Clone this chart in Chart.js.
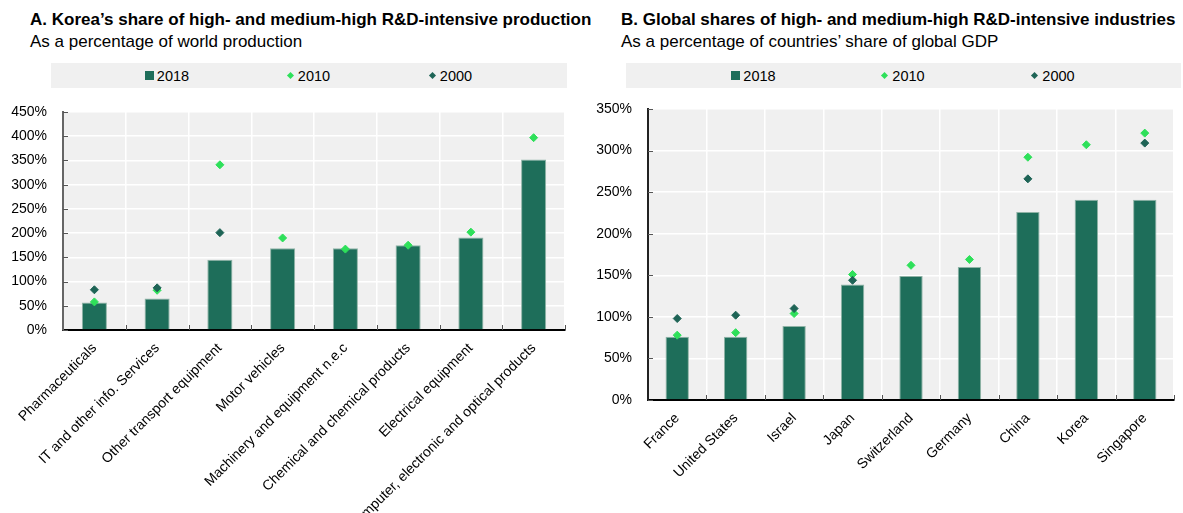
<!DOCTYPE html>
<html>
<head>
<meta charset="utf-8">
<script src="https://cdn.jsdelivr.net/npm/chart.js@4.4.1/dist/chart.umd.min.js"></script>
<style>
  body { margin: 0; background: #fff; width: 1183px; height: 513px; overflow: hidden; position: relative; font-family: "Liberation Sans", Arial, sans-serif; }
  .title { position: absolute; font-weight: bold; font-size: 17px; color: #000; white-space: nowrap; }
  .sub { position: absolute; font-size: 17px; color: #000; white-space: nowrap; }
  .legend { position: absolute; height: 25px; background: #f0f0f0; display: flex; justify-content: center; align-items: center; font-size: 14.5px; }
  .legend .item { display: flex; justify-content: center; align-items: center; }
  .sq { width: 9px; height: 9px; background: #1e6e5a; margin-right: 3px; }
  .dm { width: 5px; height: 5px; transform: rotate(45deg); margin-right: 5px; }
  canvas { position: absolute; }
</style>
</head>
<body>

<div class="title" style="left:30px; top:10px;">A. Korea’s share of high- and medium-high R&amp;D-intensive production</div>
<div class="sub" style="left:30px; top:32px;">As a percentage of world production</div>
<div class="legend" style="left:51px; top:63px; width:516px;">
  <div class="item" style="width:142px"><span class="sq"></span>2018</div>
  <div class="item" style="width:142px"><span class="dm" style="background:#2ee05a"></span>2010</div>
  <div class="item" style="width:142px"><span class="dm" style="background:#1e6456"></span>2000</div>
</div>
<canvas id="chartA" width="570" height="418" style="left:0px; top:95px;"></canvas>

<div class="title" style="left:621px; top:10px;">B. Global shares of high- and medium-high R&amp;D-intensive industries</div>
<div class="sub" style="left:621px; top:32px;">As a percentage of countries’ share of global GDP</div>
<div class="legend" style="left:626px; top:63px; width:555px;">
  <div class="item" style="width:150px"><span class="sq"></span>2018</div>
  <div class="item" style="width:150px"><span class="dm" style="background:#2ee05a"></span>2010</div>
  <div class="item" style="width:150px"><span class="dm" style="background:#1e6456"></span>2000</div>
</div>
<canvas id="chartB" width="595" height="418" style="left:588px; top:95px;"></canvas>

<script>
// panel A - industries
const industries = ['Pharmaceuticals', 'IT and other info. Services', 'Other transport equipment', 'Motor vehicles',
  'Machinery and equipment n.e.c', 'Chemical and chemical products', 'Electrical equipment',
  'Computer, electronic and optical products'];
const ind2018 = [57, 65, 145, 169, 169, 175, 191, 352];
const ind2010 = [58, 82, 341, 190, 167, 175, 202, 397];
const ind2000 = [83, 87, 201, null, null, null, null, null];

// panel B - countries
const countries = ['France', 'United States', 'Israel', 'Japan', 'Switzerland', 'Germany', 'China', 'Korea', 'Singapore'];
const c2018 = [76, 76, 89, 139, 149, 160, 226, 241, 241];
const c2010 = [78, 81, 104, 151, 162, 169, 292, 307, 321];
const c2000 = [98, 102, 110, 144, null, null, 266, null, 309];

const barColor = '#1e6e5a';
const col2010 = '#2ee05a';
const col2000 = '#1e6456';

// grey plot background
const plotBg = {
  id: 'plotBg',
  beforeDraw(chart) {
    const { ctx, chartArea: a } = chart;
    ctx.save();
    ctx.fillStyle = '#f0f0f0';
    ctx.fillRect(a.left, a.top, a.right - a.left, a.bottom - a.top);
    ctx.restore();
  }
};

// small ticks pointing into the plot
const innerTicks = {
  id: 'innerTicks',
  afterDraw(chart) {
    const { ctx, chartArea: a, scales } = chart;
    ctx.save();
    ctx.strokeStyle = '#555';
    ctx.lineWidth = 1;
    ctx.beginPath();
    scales.y.ticks.forEach(t => {
      const y = Math.round(scales.y.getPixelForValue(t.value)) + 0.5;
      ctx.moveTo(a.left, y);
      ctx.lineTo(a.left + 5, y);
    });
    const n = scales.x.ticks.length;
    for (let i = 1; i <= n; i++) {
      const x = Math.round(a.left + i * (a.right - a.left) / n) + 0.5;
      ctx.moveTo(x, a.bottom);
      ctx.lineTo(x, a.bottom - 5);
    }
    ctx.stroke();
    ctx.restore();
  }
};

function makeChart(id, labels, v2018, v2010, v2000, ymax, yWidth, xHeight, yBorder, pad) {
  return new Chart(document.getElementById(id), {
    type: 'bar',
    data: {
      labels: labels,
      datasets: [
        { type: 'line', label: '2000', data: v2000, showLine: false, pointStyle: 'rectRot', pointRadius: 4,
          pointBackgroundColor: col2000, pointBorderColor: col2000, pointBorderWidth: 1, order: 1 },
        { type: 'line', label: '2010', data: v2010, showLine: false, pointStyle: 'rectRot', pointRadius: 4,
          pointBackgroundColor: col2010, pointBorderColor: col2010, pointBorderWidth: 1, order: 2 },
        { label: '2018', data: v2018, backgroundColor: barColor, borderColor: '#8fb3a6', borderWidth: 1,
          categoryPercentage: 1, barPercentage: 0.4, order: 3 }
      ]
    },
    options: {
      responsive: false,
      animation: false,
      layout: { padding: pad },
      plugins: { legend: { display: false }, tooltip: { enabled: false } },
      scales: {
        x: {
          grid: { color: '#ffffff', lineWidth: 1.5, drawTicks: false },
          border: { color: '#000', width: 2 },
          ticks: { color: '#000', font: { family: 'Liberation Sans', size: 14 }, minRotation: 45, maxRotation: 45,
                   autoSkip: false, padding: 10 },
          afterFit(scale) { scale.height = xHeight; }
        },
        y: {
          min: 0, max: ymax,
          grid: { color: '#ffffff', lineWidth: 1.5, tickLength: 12, tickColor: 'rgba(0,0,0,0)' },
          border: { color: yBorder, width: 2 },
          ticks: { stepSize: 50, color: '#000', font: { family: 'Liberation Sans', size: 14 }, padding: 4,
                   callback: v => v + '%' },
          afterFit(scale) { scale.width = yWidth; }
        }
      }
    },
    plugins: [plotBg, innerTicks]
  });
}

makeChart('chartA', industries, ind2018, ind2010, ind2000, 450, 63, 183, '#666', { top: 17, right: 4, left: 0, bottom: 0 });
makeChart('chartB', countries, c2018, c2010, c2000, 350, 60, 113, '#222', { top: 14, right: 9, left: 0, bottom: 0 });
</script>
</body>
</html>
